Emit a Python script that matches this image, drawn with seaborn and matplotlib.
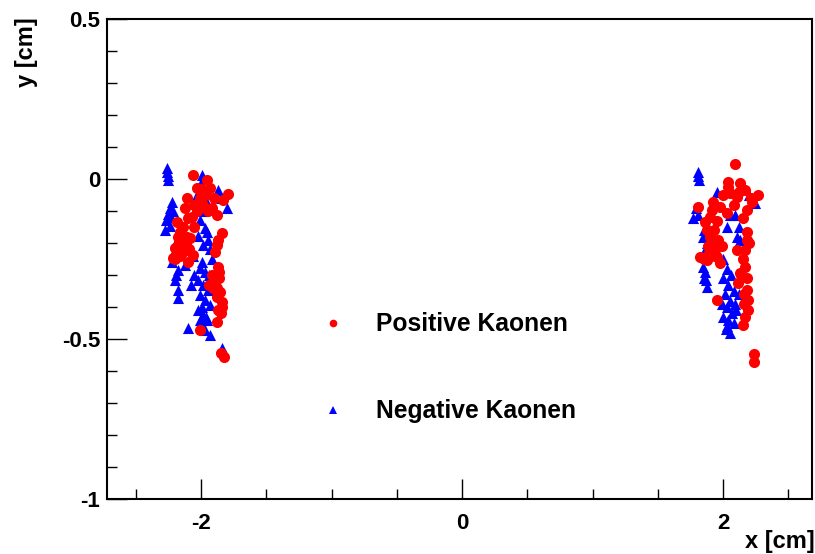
import matplotlib
matplotlib.use("Agg")
import matplotlib.pyplot as plt
from matplotlib.lines import Line2D
import seaborn as sns
import pandas as pd

# ---------------- data ----------------
pos_x = [
    # left cluster
    -2.061, -1.954, -1.931, -1.793, -1.831, -2.031, -2.008, -2.107, -1.985, -1.916, -1.877,
    -2.184, -2.161, -2.199, -2.215, -2.138, -2.084, -2.061, -2.100, -2.123,
    -1.839, -1.870, -1.893, -1.877, -1.870, -1.916, -1.893, -1.854, -1.839, -1.870, -1.877,
    -2.008, -1.824, -1.939, -1.908,
    -2.150, -2.100, -2.050, -2.030, -2.180, -2.120, -2.160, -2.070, -2.000, -1.970, -1.900,
    -1.880, -1.860, -1.840, -1.850, -2.200, -2.090, -1.950, -2.050,
    -2.140, -2.170, -2.110, -1.860, -1.880, -1.850,
    # right cluster
    2.092, 2.038, 2.054, 2.107, 2.130, 2.169, 2.268, 2.222, 2.184, 2.153, 1.808,
    1.923, 1.916, 1.977, 2.031, 1.862, 1.877, 1.900, 1.923, 1.939, 1.824, 1.877, 1.954, 1.977,
    2.184, 2.184, 2.169, 2.107, 2.169, 2.130, 2.115, 2.184, 2.192, 2.192,
    1.954, 2.153, 2.238, 2.238,
    2.000, 2.080, 1.950, 1.900, 1.930, 1.960, 1.890, 1.850, 2.150, 2.200, 2.140, 2.160,
    2.170, 2.210, 2.120, 2.040, 1.990,
    1.880, 1.910, 2.180, 2.160,
]
pos_y = [
    0.0125, -0.003, -0.028, -0.047, -0.066, -0.028, -0.059, -0.059, -0.081, -0.091, -0.1125,
    -0.134, -0.166, -0.216, -0.247, -0.228, -0.184, -0.2375, -0.122, -0.091,
    -0.169, -0.191, -0.228, -0.206, -0.275, -0.300, -0.322, -0.353, -0.384, -0.409, -0.447,
    -0.472, -0.556, -0.331, -0.341,
    -0.200, -0.260, -0.150, -0.100, -0.180, -0.210, -0.240, -0.120, -0.030, -0.050, -0.060,
    -0.370, -0.310, -0.400, -0.545, -0.250, -0.220, -0.100, -0.080,
    -0.150, -0.200, -0.180, -0.290, -0.340, -0.420,
    0.047, -0.025, -0.044, -0.056, -0.0125, -0.034, -0.050, -0.072, -0.097, -0.122, -0.0875,
    -0.072, -0.097, -0.0875, -0.106, -0.134, -0.159, -0.181, -0.200, -0.222, -0.244, -0.253, -0.244, -0.2625,
    -0.166, -0.191, -0.222, -0.222, -0.275, -0.294, -0.325, -0.347, -0.378, -0.409,
    -0.378, -0.456, -0.547, -0.572,
    -0.050, -0.080, -0.130, -0.120, -0.160, -0.190, -0.230, -0.250, -0.250, -0.200, -0.300, -0.390,
    -0.430, -0.060, -0.040, -0.010, -0.210,
    -0.210, -0.240, -0.310, -0.360,
]
neg_x = [
    # left cluster
    -2.261, -2.261, -2.253, -2.253, -1.992, -1.985, -1.870, -1.801, -1.850,
    -2.222, -2.238, -2.253, -2.268, -2.238, -2.276, -2.230, -2.215,
    -2.176, -2.199, -2.222, -2.176, -2.199, -2.176, -2.190, -2.207, -2.176,
    -2.008, -1.969, -2.023, -1.946, -1.985, -1.990, -1.960, -2.030, -1.954, -1.931, -1.916,
    -2.008, -1.969, -2.023, -1.985, -1.946, -2.008, -1.969, -1.931, -2.023, -1.985, -1.954,
    -2.000, -1.969, -1.931, -1.990, -1.960, -2.010, -1.940, -1.990,
    -2.100, -1.839, -2.100, -2.120, -2.060, -2.080, -2.050,
    # right cluster
    1.808, 1.808, 1.815, 1.954, 2.146, 2.245, 2.200, 1.770, 1.808, 1.790,
    1.847, 1.877, 1.862, 1.850, 2.054, 2.092, 2.130, 2.107, 2.030, 2.120,
    1.847, 1.862, 1.870, 1.877, 1.850,
    2.000, 2.030, 2.060, 2.000, 2.040, 2.080, 2.010, 2.050, 2.090, 2.030, 2.070, 2.000,
    2.040, 2.080, 2.030, 2.050, 2.100, 2.120, 1.990, 2.020,
]
neg_y = [
    0.034, 0.022, 0.010, -0.003, 0.0125, 0.000, -0.035, -0.090, -0.060,
    -0.072, -0.091, -0.109, -0.128, -0.147, -0.159, -0.120, -0.100,
    -0.184, -0.222, -0.259, -0.284, -0.316, -0.347, -0.300, -0.240, -0.372,
    -0.128, -0.153, -0.178, -0.191, -0.206, -0.100, -0.070, -0.050, -0.166, -0.220, -0.250,
    -0.278, -0.291, -0.316, -0.331, -0.347, -0.3625, -0.378, -0.394, -0.409, -0.425, -0.441,
    -0.456, -0.472, -0.4875, -0.400, -0.430, -0.440, -0.300, -0.260,
    -0.466, -0.528, -0.200, -0.270, -0.240, -0.330, -0.300,
    0.022, 0.010, -0.003, -0.041, -0.028, -0.075, -0.050, -0.122, -0.1125, -0.090,
    -0.181, -0.200, -0.222, -0.160, -0.1125, -0.1125, -0.191, -0.181, -0.150, -0.150,
    -0.275, -0.291, -0.316, -0.3375, -0.310,
    -0.250, -0.280, -0.300, -0.310, -0.330, -0.350, -0.360, -0.380, -0.390, -0.400, -0.420, -0.430,
    -0.440, -0.450, -0.460, -0.480, -0.410, -0.360, -0.390, -0.470,
]

labels = ["Positive Kaonen", "Negative Kaonen"]
x_ticks = [-2, 0, 2]
x_tick_labels = ["-2", "0", "2"]
y_ticks = [-1, -0.5, 0, 0.5]
y_tick_labels = ["-1", "-0.5", "0", "0.5"]

# ---------------- plot ----------------
sns.set_style("white")
plt.rcParams["font.family"] = ["Liberation Sans", "DejaVu Sans"]
plt.rcParams["font.weight"] = "bold"
plt.rcParams["text.color"] = "black"
plt.rcParams["axes.labelcolor"] = "black"
plt.rcParams["xtick.color"] = "black"
plt.rcParams["ytick.color"] = "black"

fig = plt.figure(figsize=(8.15, 5.54), dpi=100)
ax = fig.add_axes([0.1313, 0.0993, 0.865, 0.8664])

neg_df = pd.DataFrame({"x": neg_x, "y": neg_y})
pos_df = pd.DataFrame({"x": pos_x, "y": pos_y})

sns.scatterplot(data=neg_df, x="x", y="y", marker="^", color="#0000ff",
                s=64, linewidth=0, ax=ax, legend=False)
sns.scatterplot(data=pos_df, x="x", y="y", marker="o", color="#ff0000",
                s=64, linewidth=0, ax=ax, legend=False)

ax.set_xlim(-2.72, 2.68)
ax.set_ylim(-1.0, 0.5)

ax.set_xticks(x_ticks)
ax.set_xticklabels(x_tick_labels)
ax.set_yticks(y_ticks)
ax.set_yticklabels(y_tick_labels)
ax.set_xticks([-2.5, -1.5, -1, -0.5, 0.5, 1, 1.5, 2.5], minor=True)
ax.set_yticks([-0.9, -0.8, -0.7, -0.6, -0.4, -0.3, -0.2, -0.1,
               0.1, 0.2, 0.3, 0.4], minor=True)

ax.tick_params(axis="both", which="both", direction="in", colors="black",
               width=1.0, labelsize=16, bottom=True, left=True,
               top=False, right=False)
ax.tick_params(axis="both", which="major", length=14.4)
ax.tick_params(axis="both", which="minor", length=7.2)
ax.tick_params(axis="x", which="major", pad=10)
ax.tick_params(axis="y", which="major", pad=5)
for lab in ax.get_xticklabels() + ax.get_yticklabels():
    lab.set_fontweight("bold")
    lab.set_color("black")

for sp in ax.spines.values():
    sp.set_visible(True)
    sp.set_color("black")
    sp.set_linewidth(1.5)

ax.set_xlabel("")
ax.set_ylabel("")
fig.text(1.0, 0.002, "x [cm]", ha="right", va="bottom", fontsize=17,
         fontweight="bold", color="black")
fig.text(0.033, 0.968, "y [cm]", ha="center", va="top", rotation=90,
         fontsize=17, fontweight="bold", color="black")

handles = [
    Line2D([], [], linestyle="none", marker="o", markersize=5.5,
           markerfacecolor="#ff0000", markeredgewidth=0),
    Line2D([], [], linestyle="none", marker="^", markersize=5.5,
           markerfacecolor="#0000ff", markeredgewidth=0),
]
leg = ax.legend(handles, labels, loc="upper left", bbox_to_anchor=(0.3037, 0.389),
                frameon=False, fontsize=17.7, handlelength=1.0, handletextpad=1.22,
                labelspacing=2.57, borderpad=0, borderaxespad=0)
for t in leg.get_texts():
    t.set_fontweight("bold")
    t.set_color("black")

fig.savefig("out.png", dpi=100, facecolor="white")
